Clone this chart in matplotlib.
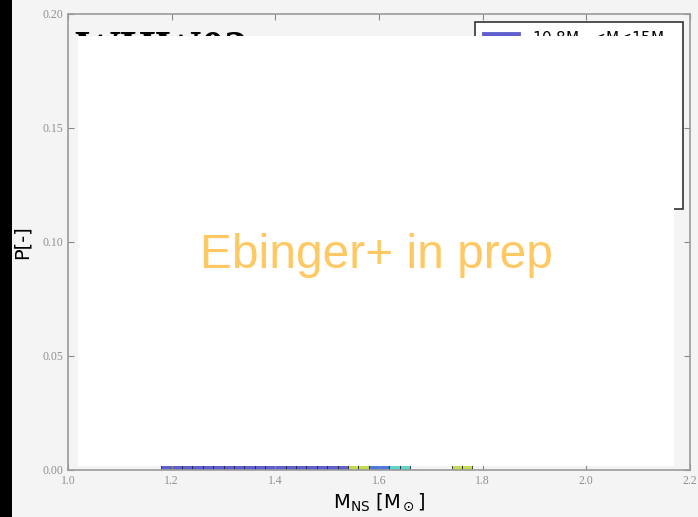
import numpy as np
import matplotlib
matplotlib.use('Agg')
import matplotlib.pyplot as plt
from matplotlib.patches import Rectangle

# Гистограмма масс нейтронных звёзд по интервалам масс прародителей
bin_edges = np.round(np.arange(1.18, 1.801, 0.02), 2)

labels = [
    r'10.8M$_\odot$<M<15M$_\odot$',
    r'15M$_\odot$<M<20M$_\odot$',
    r'20M$_\odot$<M<25M$_\odot$',
    r'25M$_\odot$<M<30M$_\odot$',
    r'30M$_\odot$<M<40M$_\odot$',
    r'40M$_\odot$<M<75M$_\odot$',
]
colors = ['#5f5fcd', '#4e78dd', '#5cd8c4', '#c6d94f', '#f2b347', '#e0605a']

# вероятности по бинам (31 бин шириной 0.02)
p_108_15 = [0.006, 0.012, 0.020, 0.028, 0.034, 0.040, 0.044, 0.046, 0.044, 0.040,
            0.034, 0.028, 0.022, 0.016, 0.012, 0.008, 0.006, 0.004, 0.0, 0.0,
            0.0, 0.0, 0.0, 0.0, 0.0, 0.0, 0.0, 0.0, 0.0, 0.0, 0.0]
p_15_20 = [0.0, 0.0, 0.0, 0.0, 0.002, 0.004, 0.006, 0.008, 0.010, 0.012,
           0.014, 0.016, 0.016, 0.014, 0.012, 0.010, 0.008, 0.006, 0.0, 0.0,
           0.004, 0.004, 0.0, 0.0, 0.0, 0.0, 0.0, 0.0, 0.0, 0.0, 0.0]
p_20_25 = [0.0, 0.0, 0.0, 0.0, 0.0, 0.0, 0.0, 0.0, 0.002, 0.004,
           0.006, 0.008, 0.010, 0.010, 0.008, 0.006, 0.004, 0.004, 0.0, 0.0,
           0.002, 0.002, 0.006, 0.004, 0.0, 0.0, 0.0, 0.0, 0.0, 0.0, 0.0]
p_25_30 = [0.0, 0.0, 0.0, 0.0, 0.0, 0.0, 0.0, 0.0, 0.0, 0.0,
           0.0, 0.002, 0.004, 0.006, 0.006, 0.004, 0.004, 0.002, 0.004, 0.004,
           0.002, 0.0, 0.002, 0.0, 0.0, 0.0, 0.0, 0.0, 0.004, 0.002, 0.0]
p_30_40 = [0.0, 0.0, 0.0, 0.0, 0.0, 0.0, 0.0, 0.0, 0.0, 0.0,
           0.0, 0.0, 0.002, 0.002, 0.004, 0.004, 0.002, 0.002, 0.0, 0.0,
           0.0, 0.0, 0.002, 0.002, 0.0, 0.0, 0.0, 0.0, 0.0, 0.0, 0.0]
p_40_75 = [0.0, 0.0, 0.0, 0.0, 0.0, 0.0, 0.0, 0.0, 0.0, 0.0,
           0.0, 0.0, 0.0, 0.0, 0.002, 0.002, 0.002, 0.0, 0.0, 0.0,
           0.0, 0.0, 0.0, 0.0, 0.0, 0.0, 0.0, 0.0, 0.0, 0.0, 0.0]
groups = [p_108_15, p_15_20, p_20_25, p_25_30, p_30_40, p_40_75]

x_ticks = [1.0, 1.2, 1.4, 1.6, 1.8, 2.0, 2.2]
y_ticks = [0.00, 0.05, 0.10, 0.15, 0.20]

bg = '#f4f4f4'
fig = plt.figure(figsize=(6.98, 5.17), dpi=100, facecolor=bg)
ax = fig.add_axes([68 / 698, 1 - 470 / 517, 622 / 698, 456 / 517])
ax.set_facecolor(bg)

left = bin_edges[:-1]
width = np.diff(bin_edges)
bottom = np.zeros(len(left))
for vals, c, lab in zip(groups, colors, labels):
    vals = np.array(vals)
    ax.bar(left, vals, width=width, bottom=bottom, align='edge', color=c,
           edgecolor='#222244', linewidth=0.6, label=lab)
    bottom += vals

ax.set_xlim(1.0, 2.2)
ax.set_ylim(0.0, 0.20)
ax.set_xticks(x_ticks)
ax.set_yticks(y_ticks)
ax.set_xticklabels(['%.1f' % v for v in x_ticks])
ax.set_yticklabels(['%.2f' % v for v in y_ticks])
ax.tick_params(direction='in', length=4, width=0.8, color='#888888',
               top=True, right=True, labelsize=8.5, labelcolor='#909090')
for t in ax.get_xticklabels() + ax.get_yticklabels():
    t.set_fontfamily('Liberation Serif')
for s in ax.spines.values():
    s.set_color('#9a9a9a')
    s.set_linewidth(1.2)

ax.text(0.011, 0.964, 'WHW02', transform=ax.transAxes, ha='left', va='top',
        fontsize=33, fontweight='bold', family='Liberation Serif', color='black')

leg = ax.legend(loc='upper right', bbox_to_anchor=(0.9887, 0.9825), fontsize=11,
                frameon=True, fancybox=False, framealpha=1, handlelength=2.5,
                handleheight=0.6, handletextpad=0.8, borderpad=0.45,
                labelspacing=0.85, borderaxespad=0.0)
leg.get_frame().set_edgecolor('#333333')
leg.get_frame().set_linewidth(1.2)
for h in leg.legend_handles:
    h.set_edgecolor(h.get_facecolor())

ax.set_xlabel(r'M$_{\mathrm{NS}}$ [M$_\odot$]', fontsize=14, labelpad=3)
ax.set_ylabel('P[-]', fontsize=14, labelpad=8)

# белая заглушка поверх графика и подпись
fig.add_artist(Rectangle((78 / 698, 1 - 466 / 517), 596 / 698, 430 / 517,
                         transform=fig.transFigure, facecolor='white',
                         edgecolor='none', zorder=10))
fig.text(376 / 698, 1 - 255 / 517, 'Ebinger+ in prep', ha='center', va='center',
         fontsize=34.5, color='#ffc862', family='Liberation Sans', zorder=11)
# тёмная полоса слева
fig.add_artist(Rectangle((0, 0), 12 / 698, 1, transform=fig.transFigure,
                         facecolor='black', edgecolor='none', zorder=12))

fig.savefig('out.png', dpi=100, facecolor=bg)
